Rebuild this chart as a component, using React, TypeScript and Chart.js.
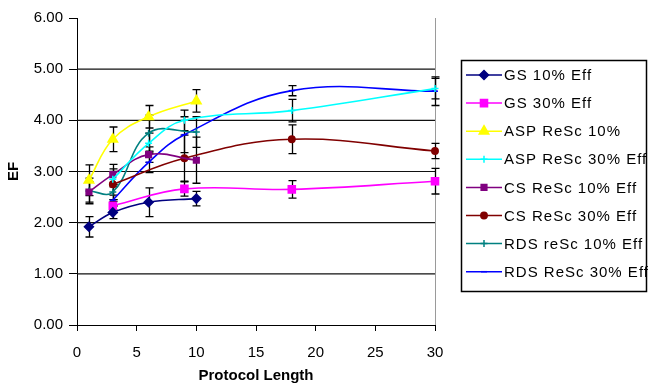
import React, { useEffect, useRef } from 'react';
import { Chart, registerables } from 'chart.js';
import { drawPoint } from 'chart.js/helpers';

Chart.register(...registerables);

// ---- data ----
const yTickLabels = ['0.00', '1.00', '2.00', '3.00', '4.00', '5.00', '6.00'];
const xTickLabels = ['0', '5', '10', '15', '20', '25', '30'];
const gridValues = [1, 2, 3, 4, 5];

const seriesNames = [
  'GS 10% Eff',
  'GS 30% Eff',
  'ASP ReSc 10%',
  'ASP ReSc 30% Eff',
  'CS ReSc 10% Eff',
  'CS ReSc 30% Eff',
  'RDS reSc 10% Eff',
  'RDS ReSc 30% Eff',
];

const gs10X = [1, 3, 6, 10];
const gs10Y = [1.92, 2.2, 2.4, 2.47];
const gs10Err = [0.2, 0.12, 0.28, 0.14];

const gs30X = [3, 9, 18, 30];
const gs30Y = [2.33, 2.66, 2.65, 2.81];
const gs30Err = [0.08, 0.14, 0.17, 0.25];

const asp10X = [1, 3, 6, 10];
const asp10Y = [2.83, 3.63, 4.07, 4.38];
const asp10Err = [0.3, 0.24, 0.22, 0.22];

const asp30X = [3, 6, 9, 18, 30];
const asp30Y = [2.85, 3.55, 4.0, 4.19, 4.62];
const asp30Err = [0.15, 0.2, 0.2, 0.22, 0.2];

const cs10X = [1, 3, 6, 10];
const cs10Y = [2.6, 2.94, 3.33, 3.22];
const cs10Err = [0.2, 0.2, 0.15, 0.45];

const cs30X = [3, 9, 18, 30];
const cs30Y = [2.75, 3.26, 3.63, 3.4];
const cs30Err = [0.3, 0.45, 0.28, 0.15];

const rds10X = [1, 3, 6, 10];
const rds10Y = [2.62, 2.6, 3.75, 3.77];
const rds10Err = [0.25, 0.15, 0.35, 0.3];

const rds30X = [3, 6, 9, 18, 30];
const rds30Y = [2.44, 3.18, 3.72, 4.58, 4.57];
const rds30Err = [0.1, 0.2, 0.35, 0.1, 0.28];

const seriesX = [gs10X, gs30X, asp10X, asp30X, cs10X, cs30X, rds10X, rds30X];
const seriesY = [gs10Y, gs30Y, asp10Y, asp30Y, cs10Y, cs30Y, rds10Y, rds30Y];
const seriesErr = [gs10Err, gs30Err, asp10Err, asp30Err, cs10Err, cs30Err, rds10Err, rds30Err];

// ---- styles ----
const styles = [
  { color: '#000080', pointStyle: 'rectRot', radius: 4.5 },
  { color: '#FF00FF', pointStyle: 'rect', radius: 5 },
  { color: '#FFFF00', pointStyle: 'triangle', radius: 5.5 },
  { color: '#00FFFF', pointStyle: 'cross', radius: 3.5 },
  { color: '#800080', pointStyle: 'rect', radius: 4 },
  { color: '#800000', pointStyle: 'circle', radius: 3.2 },
  { color: '#008080', pointStyle: 'cross', radius: 3.5 },
  { color: '#0000FF', pointStyle: 'line', radius: 3 },
];

const FONT = '"Liberation Sans", Arial, sans-serif';

const customPlugin = {
  id: 'customDecor',
  beforeDatasetsDraw(chart: any) {
    const { ctx, chartArea } = chart;
    const x = chart.scales.x;
    const y = chart.scales.y;
    ctx.save();
    // gridlines
    ctx.strokeStyle = '#111';
    ctx.lineWidth = 1.2;
    for (const v of gridValues) {
      const py = y.getPixelForValue(v);
      ctx.beginPath();
      ctx.moveTo(chartArea.left, py);
      ctx.lineTo(chartArea.right, py);
      ctx.stroke();
    }
    // right border
    ctx.strokeStyle = '#9a9a9a';
    ctx.lineWidth = 1;
    ctx.beginPath();
    ctx.moveTo(chartArea.right + 0.5, chartArea.top);
    ctx.lineTo(chartArea.right + 0.5, chartArea.bottom);
    ctx.stroke();
    // error bars
    ctx.strokeStyle = '#000';
    ctx.lineWidth = 1.3;
    seriesX.forEach((xs, i) => {
      xs.forEach((xv, j) => {
        const yv = seriesY[i][j];
        const e = seriesErr[i][j];
        const px = Math.round(x.getPixelForValue(xv)) + 0.5;
        const p1 = y.getPixelForValue(yv + e);
        const p2 = y.getPixelForValue(yv - e);
        ctx.beginPath();
        ctx.moveTo(px, p1);
        ctx.lineTo(px, p2);
        ctx.moveTo(px - 4, p1);
        ctx.lineTo(px + 4, p1);
        ctx.moveTo(px - 4, p2);
        ctx.lineTo(px + 4, p2);
        ctx.stroke();
      });
    });
    ctx.restore();
  },
  afterDraw(chart: any) {
    const { ctx } = chart;
    ctx.save();
    // legend box
    ctx.strokeStyle = '#000';
    ctx.lineWidth = 1.5;
    ctx.strokeRect(461.5, 60.5, 185, 231);
    seriesNames.forEach((name, i) => {
      const cy = 75 + i * 28.1;
      const st = styles[i];
      ctx.strokeStyle = st.color;
      ctx.lineWidth = 1.5;
      ctx.beginPath();
      ctx.moveTo(466, cy);
      ctx.lineTo(502, cy);
      ctx.stroke();
      ctx.fillStyle = st.color;
      ctx.strokeStyle = st.color;
      ctx.lineWidth = 1.5;
      drawPoint(ctx, { pointStyle: st.pointStyle, radius: st.radius, rotation: 0, borderWidth: 1.5 } as any, 484, cy);
      ctx.fillStyle = '#000';
      ctx.font = `15px ${FONT}`;
      (ctx as any).letterSpacing = '1px';
      ctx.textBaseline = 'middle';
      ctx.textAlign = 'left';
      ctx.fillText(name, 504, cy + 1);
    });
    ctx.restore();
  },
};

export default function App() {
  const ref = useRef<HTMLCanvasElement | null>(null);
  useEffect(() => {
    if (!ref.current) return;
    const datasets = seriesNames.map((name, i) => ({
      label: name,
      data: seriesX[i].map((xv, j) => ({ x: xv, y: seriesY[i][j] })),
      borderColor: styles[i].color,
      backgroundColor: styles[i].color,
      pointBackgroundColor: styles[i].color,
      pointBorderColor: styles[i].color,
      pointStyle: styles[i].pointStyle as any,
      pointRadius: styles[i].radius,
      pointBorderWidth: 1.5,
      borderWidth: 1.6,
      tension: 0.4,
      fill: false,
      clip: 12,
    }));
    const chart = new Chart(ref.current, {
      type: 'line',
      data: { datasets },
      options: {
        responsive: false,
        animation: false,
        events: [],
        layout: { padding: { left: 0, top: 18, right: 213, bottom: 0 } },
        plugins: { legend: { display: false }, tooltip: { enabled: false } },
        scales: {
          x: {
            type: 'linear',
            min: 0,
            max: 30,
            afterBuildTicks: (s: any) => {
              s.ticks = xTickLabels.map((t) => ({ value: Number(t) }));
            },
            ticks: {
              color: '#000',
              font: { family: FONT, size: 15 },
              padding: 13,
              maxRotation: 0,
              autoSkip: false,
              callback: (_v: any, idx: number) => xTickLabels[idx],
            },
            grid: { drawOnChartArea: false, color: '#000', tickLength: 6, lineWidth: 1 },
            border: { color: '#000', width: 1 },
            title: {
              display: true,
              text: 'Protocol Length',
              color: '#000',
              font: { family: FONT, size: 15, weight: 'bold' },
              padding: { top: 0, bottom: 2 },
            },
            afterFit: (s: any) => {
              s.height = 62;
            },
          },
          y: {
            type: 'linear',
            min: 0,
            max: 6,
            afterBuildTicks: (s: any) => {
              s.ticks = yTickLabels.map((t) => ({ value: Number(t) }));
            },
            ticks: {
              color: '#000',
              font: { family: FONT, size: 15 },
              padding: 6,
              autoSkip: false,
              callback: (_v: any, idx: number) => yTickLabels[idx],
            },
            grid: { drawOnChartArea: false, color: '#000', tickLength: 8, lineWidth: 1 },
            border: { color: '#000', width: 1 },
            title: {
              display: true,
              text: 'EF',
              color: '#000',
              font: { family: FONT, size: 15, weight: 'bold' },
              padding: { top: 5, bottom: 0 },
            },
            afterFit: (s: any) => {
              s.width = 77;
            },
          },
        },
      },
      plugins: [customPlugin],
    });
    return () => chart.destroy();
  }, []);
  return (
    <div style={{ position: 'fixed', left: 0, top: 0, width: 648, height: 387, background: '#fff' }}>
      <canvas ref={ref} width={648} height={387} style={{ width: 648, height: 387, display: 'block' }} />
    </div>
  );
}
